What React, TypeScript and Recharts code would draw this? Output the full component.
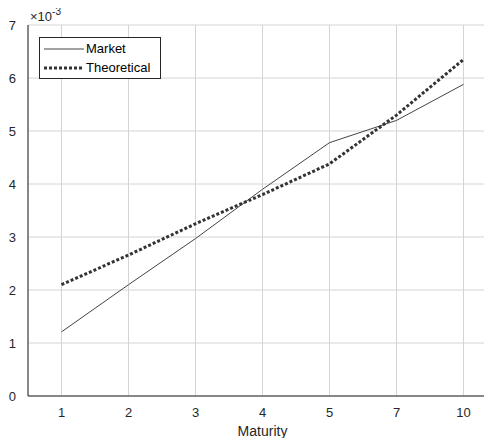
import { LineChart, Line, XAxis, YAxis, CartesianGrid } from 'recharts';

const maturities = ['1', '2', '3', '4', '5', '7', '10'];
const market = [0.00121, 0.0021, 0.00297, 0.0039, 0.00478, 0.0052, 0.00588];
const theoretical = [0.0021, 0.00266, 0.00325, 0.0038, 0.00438, 0.0053, 0.00635];
const yTicks = [0, 0.001, 0.002, 0.003, 0.004, 0.005, 0.006, 0.007];

const data = maturities.map((m, i) => ({ maturity: m, market: market[i], theoretical: theoretical[i] }));

const FONT = '"Liberation Sans", Arial, sans-serif';

function ExponentLabel(props: any) {
  const vb = props.viewBox || {};
  return (
    <text x={vb.x + vb.width + 2} y={vb.y - 4} fill="#262626" fontSize={13} fontFamily={FONT}>
      ×10
      <tspan dy={-6} fontSize={10}>-3</tspan>
    </text>
  );
}

function LegendBox() {
  return (
    <div
      style={{
        position: 'absolute',
        left: 39,
        top: 37,
        border: '1px solid #262626',
        background: '#fff',
        width: 120,
        padding: '1px 0',
        fontFamily: FONT,
        fontSize: 13,
        color: '#000',
      }}
    >
      <div style={{ display: 'flex', alignItems: 'center', height: 19 }}>
        <svg width={46} height={10}>
          <line x1={4} y1={5} x2={44} y2={5} stroke="#444" strokeWidth={1} />
        </svg>
        <span>Market</span>
      </div>
      <div style={{ display: 'flex', alignItems: 'center', height: 19 }}>
        <svg width={46} height={10}>
          <line x1={4} y1={5} x2={44} y2={5} stroke="#333" strokeWidth={3} strokeDasharray="3 2" />
        </svg>
        <span>Theoretical</span>
      </div>
    </div>
  );
}

export default function App() {
  return (
    <div style={{ margin: -8, width: 492, height: 446, overflow: 'hidden', background: '#fff', position: 'relative' }}>
      <LineChart width={500} height={446} data={data} margin={{ top: 25, right: 3, bottom: 0, left: 0 }}>
        <CartesianGrid stroke="#d4d4d4" strokeWidth={1} />
        <XAxis
          dataKey="maturity"
          scale="band"
          height={50}
          tickLine={false}
          axisLine={{ stroke: '#262626' }}
          tick={{ fill: '#262626', fontSize: 13, fontFamily: FONT }}
          tickMargin={6}
          label={{ value: 'Maturity', position: 'insideBottom', offset: 10, fill: '#262626', fontSize: 14, fontFamily: FONT }}
        />
        <YAxis
          width={28}
          domain={[0, 0.007]}
          ticks={yTicks}
          tickFormatter={(v: number) => String(Math.round(v * 1000))}
          tickLine={false}
          axisLine={{ stroke: '#262626' }}
          tick={{ fill: '#262626', fontSize: 13, fontFamily: FONT }}
          tickMargin={6}
          label={<ExponentLabel />}
        />
        <Line
          type="linear"
          dataKey="market"
          name="Market"
          stroke="#444"
          strokeWidth={1}
          dot={false}
          isAnimationActive={false}
        />
        <Line
          type="linear"
          dataKey="theoretical"
          name="Theoretical"
          stroke="#333"
          strokeWidth={3}
          strokeDasharray="3 2"
          dot={false}
          isAnimationActive={false}
        />
      </LineChart>
      <LegendBox />
    </div>
  );
}
